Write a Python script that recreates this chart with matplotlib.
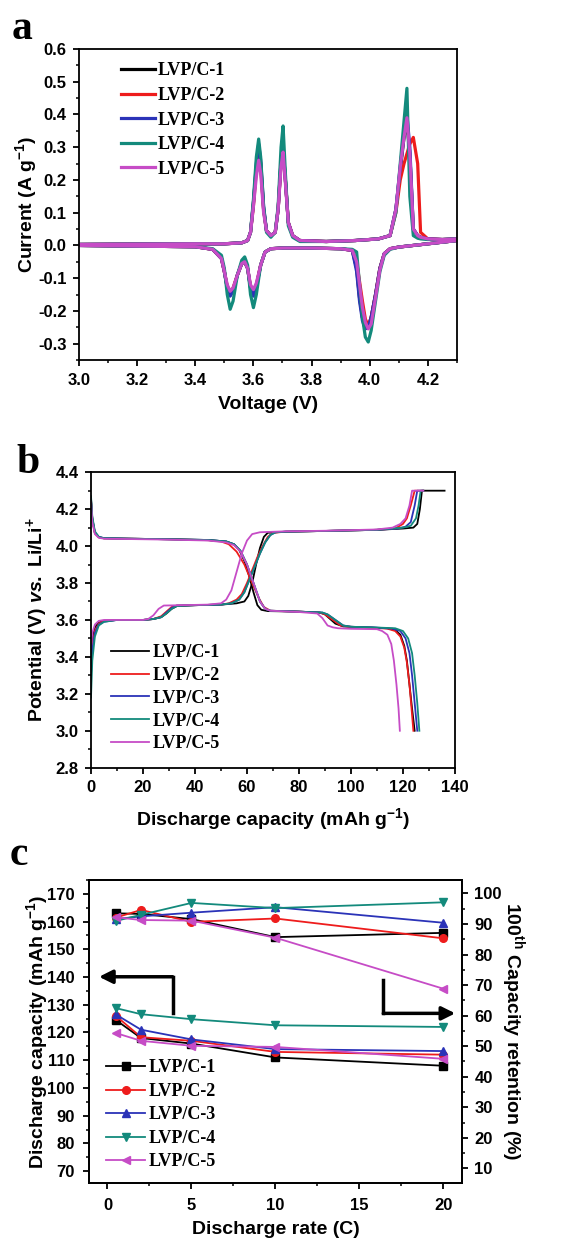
import numpy as np
import matplotlib
matplotlib.use("Agg")
import matplotlib.pyplot as plt
from matplotlib.ticker import MultipleLocator, FormatStrFormatter

plt.rcParams["font.family"] = ["Liberation Sans", "DejaVu Sans"]
plt.rcParams["font.weight"] = "bold"
plt.rcParams["axes.unicode_minus"] = False
plt.rcParams["mathtext.fontset"] = "custom"
plt.rcParams["mathtext.rm"] = "Liberation Sans:bold"
plt.rcParams["mathtext.bf"] = "Liberation Sans:bold"
plt.rcParams["mathtext.it"] = "Liberation Sans:italic:bold"
plt.rcParams["mathtext.default"] = "bf"

labels = ["LVP/C-1", "LVP/C-2", "LVP/C-3", "LVP/C-4", "LVP/C-5"]
colors = ["#000000", "#ee1c1c", "#2b33b8", "#138a7c", "#c64cc6"]

# ---- (a) cyclic voltammetry ----
cv_v_up = [3.00, 3.20, 3.40, 3.50, 3.56, 3.58, 3.59, 3.60, 3.61, 3.618, 3.625,
           3.635, 3.645, 3.66, 3.675, 3.685, 3.695, 3.702, 3.71, 3.72, 3.735,
           3.76, 3.85, 3.95, 4.03, 4.07, 4.09, 4.105, 4.118, 4.128, 4.138,
           4.15, 4.165, 4.175, 4.20, 4.25, 4.30]
cv_i_up = [
    [0.003, 0.004, 0.005, 0.005, 0.008, 0.015, 0.04, 0.13, 0.24, 0.30, 0.25,
     0.11, 0.045, 0.03, 0.04, 0.11, 0.26, 0.30, 0.20, 0.07, 0.03, 0.015,
     0.012, 0.015, 0.02, 0.03, 0.11, 0.23, 0.33, 0.38, 0.28, 0.05, 0.03,
     0.025, 0.02, 0.018, 0.02],
    [0.003, 0.004, 0.005, 0.005, 0.008, 0.015, 0.04, 0.12, 0.23, 0.29, 0.24,
     0.11, 0.045, 0.03, 0.04, 0.11, 0.25, 0.29, 0.20, 0.07, 0.03, 0.015,
     0.012, 0.015, 0.02, 0.03, 0.10, 0.20, 0.25, 0.28, 0.31, 0.33, 0.25,
     0.04, 0.02, 0.018, 0.02],
    [0.003, 0.004, 0.005, 0.005, 0.008, 0.015, 0.04, 0.13, 0.25, 0.31, 0.26,
     0.12, 0.045, 0.03, 0.04, 0.11, 0.26, 0.30, 0.20, 0.07, 0.03, 0.015,
     0.012, 0.015, 0.02, 0.03, 0.11, 0.24, 0.34, 0.40, 0.30, 0.05, 0.03,
     0.025, 0.02, 0.018, 0.02],
    [0.003, 0.004, 0.005, 0.005, 0.008, 0.015, 0.04, 0.14, 0.27, 0.325, 0.27,
     0.12, 0.04, 0.025, 0.04, 0.12, 0.30, 0.365, 0.22, 0.06, 0.025, 0.012,
     0.012, 0.015, 0.02, 0.03, 0.10, 0.25, 0.38, 0.48, 0.15, 0.03, 0.022,
     0.02, 0.018, 0.018, 0.02],
    [0.003, 0.004, 0.005, 0.005, 0.008, 0.015, 0.04, 0.12, 0.21, 0.26, 0.22,
     0.10, 0.045, 0.03, 0.04, 0.11, 0.24, 0.285, 0.19, 0.07, 0.03, 0.015,
     0.012, 0.015, 0.02, 0.03, 0.11, 0.24, 0.33, 0.39, 0.28, 0.05, 0.03,
     0.025, 0.02, 0.018, 0.02],
]
cv_v_dn = [3.00, 3.20, 3.40, 3.46, 3.49, 3.50, 3.51, 3.52, 3.53, 3.545, 3.56,
           3.57, 3.58, 3.59, 3.60, 3.61, 3.625, 3.64, 3.66, 3.70, 3.80, 3.90,
           3.94, 3.955, 3.965, 3.975, 3.985, 3.995, 4.005, 4.02, 4.035, 4.05,
           4.07, 4.10, 4.20, 4.30]
cv_i_dn = [
    [0.0, -0.002, -0.004, -0.012, -0.04, -0.08, -0.13, -0.15, -0.135, -0.09,
     -0.055, -0.05, -0.07, -0.13, -0.15, -0.125, -0.06, -0.02, -0.01, -0.008,
     -0.008, -0.01, -0.015, -0.07, -0.16, -0.22, -0.245, -0.25, -0.22, -0.15,
     -0.07, -0.025, -0.01, -0.005, 0.005, 0.015],
    [0.0, -0.002, -0.004, -0.012, -0.04, -0.08, -0.125, -0.14, -0.13, -0.09,
     -0.055, -0.05, -0.07, -0.125, -0.14, -0.12, -0.06, -0.02, -0.01, -0.008,
     -0.008, -0.01, -0.015, -0.05, -0.11, -0.17, -0.225, -0.245, -0.22, -0.15,
     -0.07, -0.025, -0.01, -0.005, 0.005, 0.015],
    [0.0, -0.002, -0.004, -0.012, -0.04, -0.08, -0.13, -0.155, -0.14, -0.09,
     -0.055, -0.05, -0.07, -0.13, -0.155, -0.13, -0.06, -0.02, -0.01, -0.008,
     -0.008, -0.01, -0.015, -0.08, -0.17, -0.23, -0.255, -0.25, -0.22, -0.15,
     -0.07, -0.025, -0.01, -0.005, 0.005, 0.015],
    [0.0, -0.002, -0.004, -0.01, -0.03, -0.07, -0.15, -0.195, -0.17, -0.09,
     -0.045, -0.035, -0.06, -0.15, -0.19, -0.15, -0.06, -0.02, -0.01, -0.008,
     -0.008, -0.01, -0.012, -0.02, -0.12, -0.22, -0.28, -0.295, -0.26, -0.17,
     -0.08, -0.03, -0.012, -0.005, 0.005, 0.015],
    [0.0, -0.002, -0.004, -0.012, -0.04, -0.08, -0.12, -0.14, -0.13, -0.09,
     -0.055, -0.05, -0.07, -0.12, -0.135, -0.115, -0.06, -0.02, -0.01, -0.008,
     -0.008, -0.01, -0.015, -0.05, -0.12, -0.19, -0.235, -0.255, -0.24, -0.16,
     -0.075, -0.025, -0.01, -0.005, 0.005, 0.015],
]

# ---- (b) charge / discharge profiles ----
chg_cap = [
    [0, 0.5, 1.5, 3, 5, 10, 20, 24, 27, 29, 31, 33, 40, 50, 56, 59, 60.5, 62,
     63.5, 65, 66.5, 68, 75, 90, 110, 120, 124, 125.5, 126.5, 127.3, 136],
    [0, 0.5, 1.5, 3, 5, 10, 20, 24, 27, 29, 31, 33, 40, 50, 53, 56, 58, 60,
     62, 64, 66, 68, 70, 75, 90, 110, 117, 120, 121.5, 123, 124.5, 127.8],
    [0, 0.5, 1.5, 3, 5, 10, 20, 24, 27, 29, 31, 33, 40, 50, 54, 57, 59, 61,
     63, 65, 67, 69, 71, 75, 90, 110, 118, 121, 123, 124.5, 125.5, 127.8],
    [0, 0.5, 1.5, 3, 5, 10, 20, 24, 27, 29, 31, 33, 40, 50, 54, 57, 59, 61,
     63, 65, 67, 69, 71, 75, 90, 110, 120, 123, 125, 126, 126.8, 127.8],
    [0, 0.5, 1.5, 3, 5, 10, 20, 22, 24, 26, 28, 35, 45, 50, 52, 54, 56, 58,
     60, 62, 65, 75, 90, 110, 116, 119, 121, 122.5, 123.5, 127.8],
]
chg_v = [
    [3.40, 3.50, 3.56, 3.585, 3.595, 3.60, 3.60, 3.605, 3.615, 3.635, 3.66,
     3.675, 3.68, 3.683, 3.69, 3.70, 3.73, 3.80, 3.90, 3.99, 4.05, 4.072,
     4.078, 4.082, 4.088, 4.095, 4.10, 4.12, 4.20, 4.30, 4.30],
    [3.35, 3.46, 3.54, 3.58, 3.595, 3.60, 3.60, 3.605, 3.62, 3.645, 3.67,
     3.678, 3.68, 3.683, 3.69, 3.71, 3.74, 3.80, 3.87, 3.94, 4.00, 4.05,
     4.072, 4.078, 4.082, 4.088, 4.095, 4.12, 4.15, 4.22, 4.30, 4.30],
    [3.30, 3.44, 3.53, 3.575, 3.59, 3.60, 3.60, 3.605, 3.615, 3.64, 3.665,
     3.678, 3.68, 3.683, 3.69, 3.71, 3.75, 3.82, 3.89, 3.96, 4.02, 4.06,
     4.075, 4.078, 4.082, 4.088, 4.095, 4.105, 4.13, 4.22, 4.30, 4.30],
    [3.18, 3.38, 3.51, 3.57, 3.59, 3.60, 3.60, 3.605, 3.615, 3.635, 3.66,
     3.675, 3.68, 3.683, 3.69, 3.71, 3.75, 3.82, 3.89, 3.96, 4.02, 4.06,
     4.075, 4.078, 4.082, 4.088, 4.10, 4.11, 4.15, 4.22, 4.30, 4.30],
    [3.45, 3.53, 3.575, 3.595, 3.60, 3.60, 3.60, 3.605, 3.625, 3.66, 3.678,
     3.68, 3.683, 3.69, 3.71, 3.76, 3.86, 3.96, 4.03, 4.065, 4.075, 4.08,
     4.083, 4.09, 4.10, 4.12, 4.15, 4.22, 4.30, 4.30],
]
dis_cap = [
    [0, 0.5, 1.5, 3, 5, 15, 30, 45, 52, 55, 57, 59, 61, 62.5, 64, 65.5, 68,
     80, 88, 90, 92, 94, 97, 105, 114, 117, 119, 120.5, 121.5, 122.5, 123.5,
     124.5],
    [0, 0.5, 1.5, 3, 5, 15, 30, 45, 50, 53, 56, 59, 62, 64.5, 66.5, 69, 80,
     88, 90, 92, 94, 96, 99, 105, 114, 117, 119, 120.5, 121.5, 122.5, 123.3,
     124],
    [0, 0.5, 1.5, 3, 5, 15, 30, 45, 52, 55, 57.5, 60, 63, 65, 67, 69, 80, 89,
     91, 93, 95, 97, 100, 108, 116, 119, 121, 122.5, 123.5, 124.5, 125.5],
    [0, 0.5, 1.5, 3, 5, 15, 30, 45, 52, 55, 57.5, 60, 63, 65, 67, 69, 80, 89,
     91, 93, 95, 97, 100, 108, 117, 120, 122, 123.5, 124.5, 125.5, 126.3],
    [0, 0.5, 1.5, 3, 5, 15, 30, 45, 52, 55, 57.5, 60, 63, 65, 67, 69, 80, 87,
     89, 91, 93, 95, 100, 110, 112, 114, 115.5, 116.5, 117.5, 118.3, 118.8],
]
dis_v = [
    [4.26, 4.15, 4.07, 4.048, 4.042, 4.04, 4.037, 4.033, 4.025, 4.01, 3.98,
     3.92, 3.83, 3.75, 3.68, 3.655, 3.648, 3.645, 3.64, 3.63, 3.605, 3.58,
     3.565, 3.56, 3.555, 3.545, 3.52, 3.46, 3.38, 3.25, 3.12, 3.00],
    [4.25, 4.14, 4.07, 4.048, 4.042, 4.04, 4.037, 4.032, 4.025, 4.01, 3.97,
     3.90, 3.80, 3.72, 3.67, 3.65, 3.645, 3.64, 3.63, 3.61, 3.59, 3.57,
     3.563, 3.56, 3.553, 3.54, 3.51, 3.45, 3.37, 3.25, 3.12, 3.00],
    [4.25, 4.15, 4.075, 4.05, 4.043, 4.04, 4.037, 4.033, 4.025, 4.01, 3.975,
     3.90, 3.78, 3.70, 3.66, 3.65, 3.645, 3.64, 3.63, 3.61, 3.59, 3.57,
     3.563, 3.56, 3.553, 3.54, 3.50, 3.42, 3.30, 3.15, 3.00],
    [4.27, 4.16, 4.08, 4.05, 4.043, 4.04, 4.037, 4.033, 4.025, 4.01, 3.975,
     3.90, 3.78, 3.70, 3.66, 3.65, 3.645, 3.64, 3.63, 3.61, 3.59, 3.57,
     3.563, 3.56, 3.555, 3.54, 3.50, 3.42, 3.30, 3.15, 3.00],
    [4.24, 4.13, 4.065, 4.045, 4.04, 4.038, 4.035, 4.03, 4.02, 4.005, 3.97,
     3.90, 3.78, 3.70, 3.66, 3.65, 3.643, 3.635, 3.61, 3.57, 3.56, 3.555,
     3.552, 3.55, 3.54, 3.52, 3.47, 3.38, 3.25, 3.12, 3.00],
]

# ---- (c) rate capability ----
rates = [0.5, 2, 5, 10, 20]
capacity = [
    [124.5, 118.0, 116.0, 111.0, 108.0],
    [126.0, 118.3, 117.0, 113.0, 112.0],
    [126.5, 121.0, 117.5, 114.0, 113.3],
    [128.8, 126.6, 124.8, 122.6, 122.0],
    [119.8, 117.0, 115.2, 114.8, 110.5],
]
retention = [
    [93.5, 93.3, 91.6, 85.7, 87.1],
    [92.1, 94.6, 90.7, 91.8, 85.3],
    [91.6, 92.5, 93.7, 95.5, 90.4],
    [91.0, 93.0, 96.9, 95.2, 97.1],
    [92.2, 91.3, 91.1, 85.5, 68.8],
]
markers = ["s", "o", "^", "v", "<"]

fig = plt.figure(figsize=(5.77, 12.44), dpi=100)
legend_font = dict(family=["Liberation Serif"], weight="bold", size=13)


def style_axes(ax, pad=4.5):
    for s in ax.spines.values():
        s.set_linewidth(1.3)
    ax.tick_params(which="major", direction="out", length=4.5, width=1.3,
                   labelsize=12, pad=pad, top=False, right=False)
    ax.tick_params(which="minor", direction="out", length=2.5, width=1.1,
                   top=False, right=False)
    for lbl in ax.get_xticklabels() + ax.get_yticklabels():
        lbl.set_fontweight("bold")


# panel a
ax1 = fig.add_axes([0.1369, 0.7106, 0.655, 0.25])
for k in range(5):
    ax1.plot(cv_v_up, cv_i_up[k], color=colors[k], lw=2.3, label=labels[k],
             solid_joinstyle="round")
    ax1.plot(cv_v_dn, cv_i_dn[k], color=colors[k], lw=2.3,
             solid_joinstyle="round")
ax1.set_xlim(3.0, 4.3)
ax1.set_ylim(-0.35, 0.6)
ax1.set_xticks(np.arange(3.0, 4.21, 0.2))
ax1.xaxis.set_minor_locator(MultipleLocator(0.1))
ax1.yaxis.set_major_locator(MultipleLocator(0.1))
ax1.yaxis.set_minor_locator(MultipleLocator(0.05))
ax1.xaxis.set_major_formatter(FormatStrFormatter("%.1f"))
ax1.yaxis.set_major_formatter(FormatStrFormatter("%.1f"))
style_axes(ax1)
ax1.set_xlabel("Voltage (V)", fontsize=14, fontweight="bold", labelpad=6)
ax1.set_ylabel("Current (A g$^{-1}$)", fontsize=14, fontweight="bold",
               labelpad=-1)
ax1.legend(loc="upper left", bbox_to_anchor=(0.11, 0.957), frameon=False,
           prop=legend_font, handlelength=1.9, handletextpad=0.15,
           labelspacing=0.42, borderpad=0, borderaxespad=0)

# panel b
ax2 = fig.add_axes([0.1577, 0.3829, 0.6308, 0.2375])
for k in range(5):
    ax2.plot(chg_cap[k], chg_v[k], color=colors[k], lw=1.3, label=labels[k])
    ax2.plot(dis_cap[k], dis_v[k], color=colors[k], lw=1.3)
ax2.set_xlim(0, 140)
ax2.set_ylim(2.8, 4.4)
ax2.xaxis.set_major_locator(MultipleLocator(20))
ax2.xaxis.set_minor_locator(MultipleLocator(10))
ax2.yaxis.set_major_locator(MultipleLocator(0.2))
ax2.yaxis.set_minor_locator(MultipleLocator(0.1))
ax2.yaxis.set_major_formatter(FormatStrFormatter("%.1f"))
style_axes(ax2)
ax2.set_xlabel("Discharge capacity (mAh g$^{-1}$)", fontsize=14,
               fontweight="bold", labelpad=8)
ax2.set_ylabel(r"Potential (V) $\mathit{vs.}$ Li/Li$^{+}$", fontsize=14,
               fontweight="bold", labelpad=4)
ax2.legend(loc="upper left", bbox_to_anchor=(0.055, 0.418), frameon=False,
           prop=legend_font, handlelength=2.1, handletextpad=0.2,
           labelspacing=0.32, borderpad=0, borderaxespad=0)

# panel c
ax3 = fig.add_axes([0.1542, 0.0490, 0.6464, 0.2436])
ax4 = ax3.twinx()
for k in range(5):
    ax3.plot(rates, capacity[k], color=colors[k], lw=1.3, marker=markers[k],
             ms=5.5, label=labels[k])
    ax4.plot(rates, retention[k], color=colors[k], lw=1.3, marker=markers[k],
             ms=5.5)
ax3.set_xlim(-1.1, 21.1)
ax3.set_ylim(65.7, 175)
ax4.set_ylim(5.2, 104.4)
ax3.xaxis.set_major_locator(MultipleLocator(5))
ax3.xaxis.set_minor_locator(MultipleLocator(2.5))
ax3.set_yticks(np.arange(70, 171, 10))
ax3.yaxis.set_minor_locator(MultipleLocator(5))
ax4.set_yticks(np.arange(10, 101, 10))
ax4.yaxis.set_minor_locator(MultipleLocator(5))
style_axes(ax3, pad=6)
ax4.tick_params(which="major", direction="out", length=4.5, width=1.3,
                labelsize=12, pad=4.5, right=True, left=False)
ax4.tick_params(which="minor", direction="out", length=2.5, width=1.1,
                right=True, left=False)
for lbl in ax4.get_yticklabels():
    lbl.set_fontweight("bold")
for s in ax4.spines.values():
    s.set_linewidth(1.3)
ax3.set_xlabel("Discharge rate (C)", fontsize=14, fontweight="bold",
               labelpad=6)
ax3.set_ylabel("Discharge capacity (mAh g$^{-1}$)", fontsize=14,
               fontweight="bold", labelpad=-2)
ax4.set_ylabel("100$^{th}$ Capacity retention (%)", fontsize=14,
               fontweight="bold", rotation=270, labelpad=18)
ax3.legend(loc="upper left", bbox_to_anchor=(0.045, 0.408), frameon=False,
           prop=legend_font, handlelength=2.2, handletextpad=0.15,
           labelspacing=0.36, borderpad=0, borderaxespad=0, numpoints=1)

# direction arrows
arrow_style = dict(arrowstyle="-|>", lw=2.5, color="black",
                   mutation_scale=20, shrinkA=0, shrinkB=0)
ax3.annotate("", xy=(-0.5, 140.1), xytext=(3.88, 140.1),
             arrowprops=arrow_style)
ax3.plot([3.88, 3.88], [127.1, 140.1], color="black", lw=2.5)
ax3.annotate("", xy=(20.7, 126.9), xytext=(16.42, 126.9),
             arrowprops=arrow_style)
ax3.plot([16.42, 16.42], [139.0, 126.9], color="black", lw=2.5)

# panel letters
for txt, x, y in [("a", 0.020, 0.969), ("b", 0.028, 0.620), ("c", 0.017, 0.305)]:
    fig.text(x, y, txt, fontsize=30, fontweight="bold",
             family=["Liberation Serif"])

fig.savefig("out.png", dpi=100)
plt.close(fig)
